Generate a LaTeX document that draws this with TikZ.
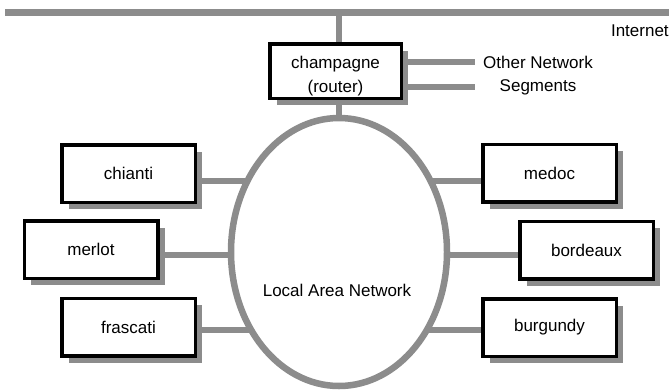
\documentclass[tikz,border=0pt]{standalone}
\usepackage{fontspec}
\setmainfont{Liberation Sans}
\usetikzlibrary{shapes.geometric,shadows,calc}
\definecolor{wire}{RGB}{140,140,140}
\pgfdeclarelayer{back}
\pgfsetlayers{back,main}
\begin{document}
\begin{tikzpicture}[x=1pt,y=-1pt,
  every node/.style={font=\fontsize{17}{23}\selectfont},
  host/.style={draw=black, line width=3.5pt, fill=white,
    minimum width=133.5pt, minimum height=57.5pt, inner sep=0pt,
    drop shadow={shadow xshift=7pt, shadow yshift=-7pt, fill=wire, opacity=1}},
  link/.style={draw=wire, line width=6.5pt}]
  \useasboundingbox (0,0) rectangle (669,389);

  % the LAN ring
  \node[ellipse, draw=wire, line width=6.5pt, fill=white,
        minimum width=216pt, minimum height=268pt, inner sep=0pt] (lan) at (339,252) {};
  \node (lantext) at (337,290) {Local Area Network};

  % router and hosts
  \node[host, minimum width=131.5pt, minimum height=54.5pt]
        (champagne) at (335.5,71)
        {\raisebox{-5pt}[\height][\depth]{\begin{tabular}{@{}c@{}}champagne\\[1pt](router)\end{tabular}}};
  \node[host] (chianti)  at (128.5,173.5) {chianti};
  \node[host] (merlot)   at (91,249.5)    {merlot};
  \node[host] (frascati) at (128.5,327)   {frascati};
  \node[host] (medoc)    at (549.5,173)   {medoc};
  \node[host] (bordeaux) at (586.5,250)   {bordeaux};
  \node[host] (burgundy) at (549.5,327.5) {burgundy};

  % labels
  \node[align=center] (others) at (538,76) {Other Network\\Segments};
  \node[anchor=west] (internet) at (607.5,31) {Internet};

  % backbone and free ends
  \coordinate (busL) at (5,12.5);
  \coordinate (busR) at (669,12.5);
  \coordinate (seg1) at (475,62);
  \coordinate (seg2) at (475,87);

  % taps onto the ring
  \path ($(chianti.east)+(0,7.5)$)  coordinate (tChianti);
  \path ($(merlot.east)+(0,5.5)$)   coordinate (tMerlot);
  \path ($(frascati.east)+(0,3)$)   coordinate (tFrascati);
  \path ($(medoc.west)+(0,8)$)      coordinate (tMedoc);
  \path ($(bordeaux.west)+(0,5)$)   coordinate (tBordeaux);
  \path ($(burgundy.west)+(0,2.5)$) coordinate (tBurgundy);

  \begin{pgfonlayer}{back}
    \draw[link] (busL) -- (busR);
    \draw[link] (lan.north) -- (lan.north |- busL);
    \draw[link] (seg1 -| champagne.east) -- (seg1);
    \draw[link] (seg2 -| champagne.east) -- (seg2);
    \draw[link] (tChianti)  -- (tChianti -| lan.center);
    \draw[link] (tMerlot)   -- (tMerlot -| lan.center);
    \draw[link] (tFrascati) -- (tFrascati -| lan.center);
    \draw[link] (tMedoc)    -- (tMedoc -| lan.center);
    \draw[link] (tBordeaux) -- (tBordeaux -| lan.center);
    \draw[link] (tBurgundy) -- (tBurgundy -| lan.center);
  \end{pgfonlayer}
\end{tikzpicture}
\end{document}
